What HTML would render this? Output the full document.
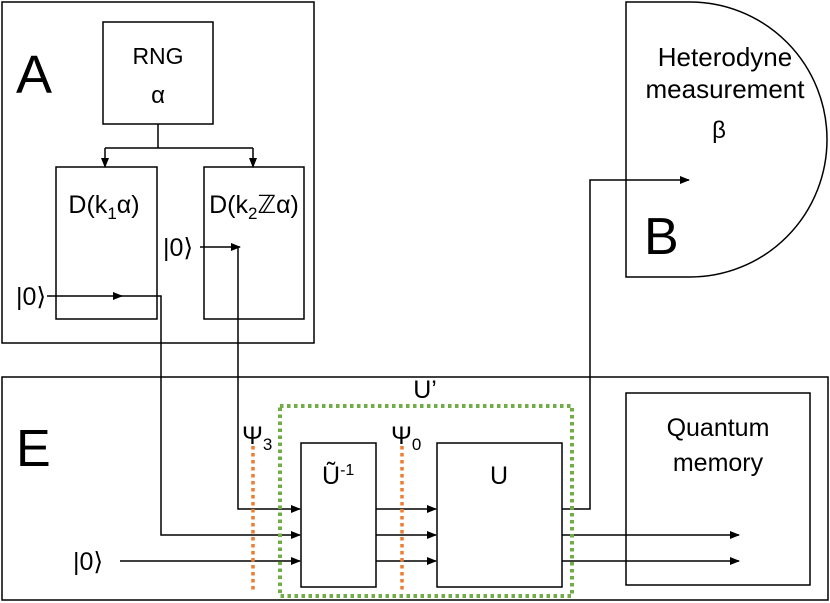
<!DOCTYPE html>
<html><head><style>body{margin:0;background:#fff}svg{display:block}text{font-family:"Liberation Sans",sans-serif;fill:#000}</style></head><body>
<svg width="830" height="603" viewBox="0 0 830 603" xmlns="http://www.w3.org/2000/svg">
<defs><marker id="a" markerWidth="10" markerHeight="8" refX="9" refY="4" orient="auto" markerUnits="userSpaceOnUse"><path d="M0,0 L10,4 L0,8Z" fill="#000"/></marker></defs>
<g fill="none" stroke="#000" stroke-width="1.5">
<rect x="2" y="2" width="312" height="341"/>
<rect x="103" y="22" width="110" height="102"/>
<rect x="56" y="167" width="101" height="152"/>
<rect x="204" y="167" width="100" height="152"/>
<rect x="2" y="377" width="826" height="223"/>
<rect x="301" y="443" width="75" height="144"/>
<rect x="437" y="443" width="125" height="144"/>
<rect x="626" y="393" width="184" height="192"/>
<path d="M626,2 H690 A137,137.5 0 0 1 690,277 H626 Z"/>
<path d="M158,124 V148 M105,148 H253"/>
<path d="M105,148 V167" marker-end="url(#a)"/>
<path d="M253,148 V167" marker-end="url(#a)"/>
<path d="M47,296 H122" marker-end="url(#a)"/>
<path d="M120,296 H161 V535 H300" marker-end="url(#a)"/>
<path d="M200,247 H240" marker-end="url(#a)"/>
<path d="M238,247 V509 H300" marker-end="url(#a)"/>
<path d="M120,561 H300" marker-end="url(#a)"/>
<path d="M376,509 H436" marker-end="url(#a)"/>
<path d="M376,535 H436" marker-end="url(#a)"/>
<path d="M376,561 H436" marker-end="url(#a)"/>
<path d="M562,509 H590 V180 H689" marker-end="url(#a)"/>
<path d="M562,535 H739" marker-end="url(#a)"/>
<path d="M562,561 H739" marker-end="url(#a)"/>
</g>
<rect x="280" y="406" width="292" height="190" fill="none" stroke="#70ad47" stroke-width="4" stroke-dasharray="3.5,3.5"/>
<path d="M253,446 V592 M402,446 V592" stroke="#ed7d31" stroke-width="3.5" stroke-dasharray="3.5,3.5"/>
<text x="16" y="93" font-size="54">A</text>
<text x="644" y="254" font-size="52">B</text>
<text x="16" y="466" font-size="52">E</text>
<text x="158" y="64" font-size="23" text-anchor="middle">RNG</text>
<text x="158" y="103" font-size="24" text-anchor="middle">α</text>
<text x="104" y="213" font-size="25" text-anchor="middle">D(k<tspan font-size="17" dy="6">1</tspan><tspan dy="-6">α)</tspan></text>
<text x="254" y="213" font-size="25" text-anchor="middle">D(k<tspan font-size="17" dy="6">2</tspan><tspan dy="-6">ℤα)</tspan></text>
<text x="16" y="305" font-size="25">|0⟩</text>
<text x="163" y="256" font-size="25">|0⟩</text>
<text x="73" y="570" font-size="25">|0⟩</text>
<text x="725" y="66" font-size="26" text-anchor="middle">Heterodyne</text>
<text x="725" y="98" font-size="26" text-anchor="middle">measurement</text>
<text x="719" y="138" font-size="24" text-anchor="middle">β</text>
<text x="718" y="436" font-size="25" text-anchor="middle">Quantum</text>
<text x="718" y="471" font-size="25" text-anchor="middle">memory</text>
<text x="425" y="398" font-size="25" text-anchor="middle">U’</text>
<text x="242" y="444" font-size="25">Ψ<tspan font-size="17" dy="6">3</tspan></text>
<text x="391" y="444" font-size="25">Ψ<tspan font-size="17" dy="6">0</tspan></text>
<text x="322" y="484" font-size="25">Ũ<tspan font-size="16" dy="-9">-1</tspan></text>
<text x="499" y="484" font-size="25" text-anchor="middle">U</text>
</svg>
</body></html>
